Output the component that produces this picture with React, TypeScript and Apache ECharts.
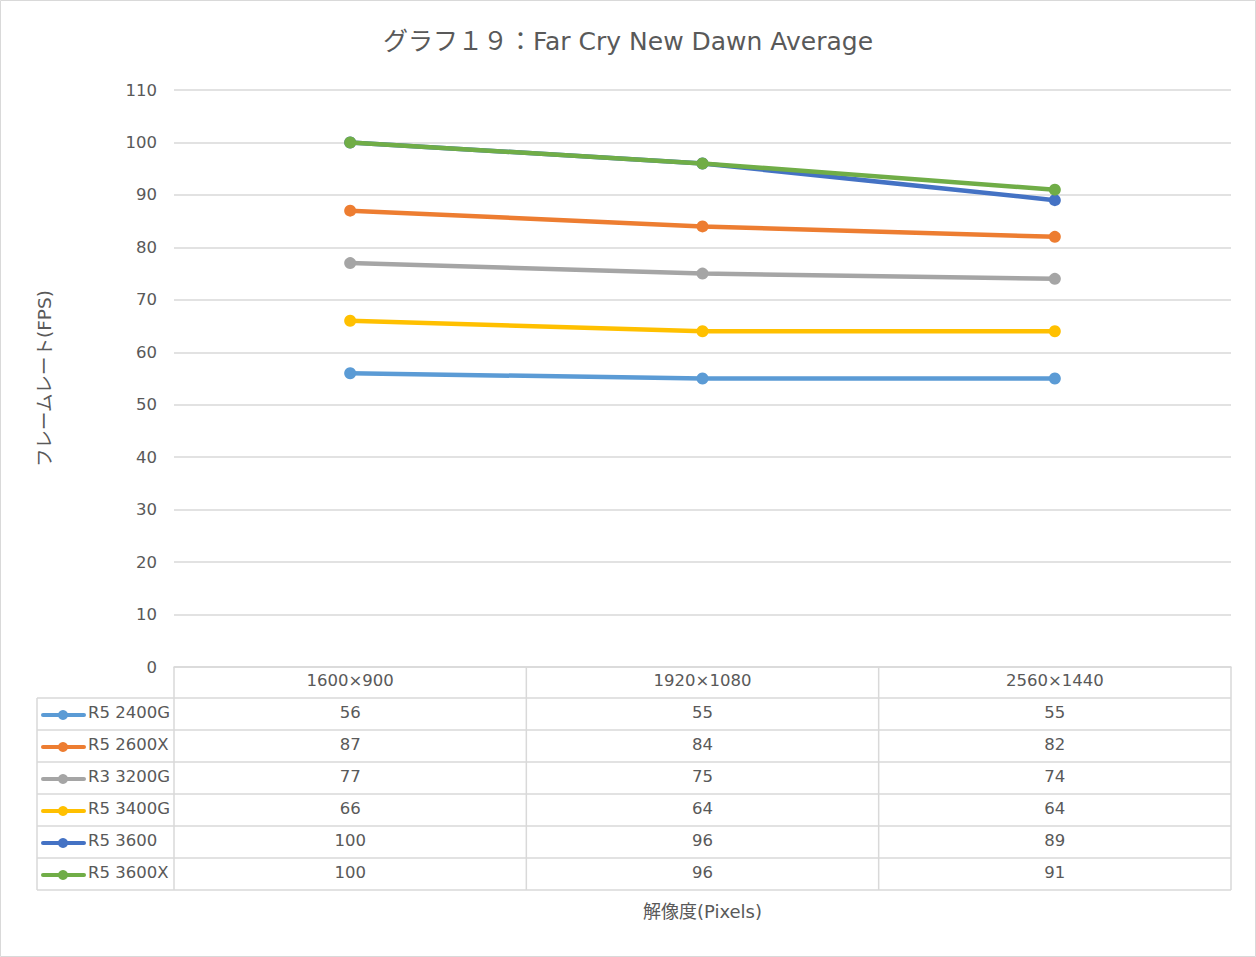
import React, { useEffect, useRef } from "react";
import * as echarts from "echarts";

const categories = ["1600×900", "1920×1080", "2560×1440"];
const seriesNames = ["R5 2400G", "R5 2600X", "R3 3200G", "R5 3400G", "R5 3600", "R5 3600X"];
const r5_2400g = [56, 55, 55];
const r5_2600x = [87, 84, 82];
const r3_3200g = [77, 75, 74];
const r5_3400g = [66, 64, 64];
const r5_3600 = [100, 96, 89];
const r5_3600x = [100, 96, 91];
const seriesValues = [r5_2400g, r5_2600x, r3_3200g, r5_3400g, r5_3600, r5_3600x];
const colors = ["#5B9BD5", "#ED7D31", "#A5A5A5", "#FFC000", "#4472C4", "#70AD47"];
const yTicks = { min: 0, max: 110, interval: 10 };

const FONT = "'DejaVu Sans', 'Noto Sans CJK JP', sans-serif";
const TXT = "#595959";
const GRID_LINE = "#d9d9d9";

export default function App() {
  const ref = useRef<HTMLDivElement>(null);
  useEffect(() => {
    if (!ref.current) return;
    const chart = echarts.init(ref.current, null, { renderer: "svg" });
    const left = 174, right = 1231, top = 90, bottom = 667;
    const rowH = 32;
    const tableLeft = 37;
    const colW = (right - left) / categories.length;
    const graphics: any[] = [];
    graphics.push({
      type: "rect",
      shape: { x: 0.5, y: 0.5, width: 1255, height: 956 },
      style: { fill: "none", stroke: GRID_LINE, lineWidth: 1 },
    });
    const nRows = seriesNames.length;
    const tableBottom = bottom + rowH * (nRows + 1) - 1;
    for (let i = 0; i <= categories.length; i++) {
      const x = left + colW * i;
      graphics.push({
        type: "line",
        shape: { x1: x, y1: bottom, x2: x, y2: tableBottom },
        style: { stroke: GRID_LINE, lineWidth: 1.5 },
      });
    }
    graphics.push({
      type: "line",
      shape: { x1: tableLeft, y1: bottom + rowH - 1, x2: tableLeft, y2: tableBottom },
      style: { stroke: GRID_LINE, lineWidth: 1.5 },
    });
    for (let r = 1; r <= nRows + 1; r++) {
      const y = bottom + rowH * r - 1;
      graphics.push({
        type: "line",
        shape: { x1: tableLeft, y1: y, x2: right, y2: y },
        style: { stroke: GRID_LINE, lineWidth: 1.5 },
      });
    }
    seriesNames.forEach((name, r) => {
      const cy = bottom + rowH * (r + 1) + rowH / 2 - 3;
      graphics.push({
        type: "line",
        shape: { x1: 43, y1: cy + 3, x2: 84, y2: cy + 3 },
        style: { stroke: colors[r], lineWidth: 4, lineCap: "round" },
      });
      graphics.push({
        type: "circle",
        shape: { cx: 63, cy: cy + 3, r: 5 },
        style: { fill: colors[r] },
      });
      graphics.push({
        type: "text",
        x: 88,
        y: cy,
        style: { text: name, fill: TXT, font: `16.5px ${FONT}`, textAlign: "left", textVerticalAlign: "middle" },
      });
      seriesValues[r].forEach((v, c) => {
        graphics.push({
          type: "text",
          x: left + colW * c + colW / 2,
          y: cy,
          style: { text: String(v), fill: TXT, font: `16.5px ${FONT}`, textAlign: "center", textVerticalAlign: "middle" },
        });
      });
    });

    chart.setOption({
      animation: false,
      backgroundColor: "#ffffff",
      title: {
        text: "グラフ１９：Far Cry New Dawn Average",
        left: "center",
        top: 24,
        textStyle: { color: TXT, fontSize: 25, fontWeight: "normal", fontFamily: FONT },
      },
      grid: { left, right: 1256 - right, top, height: bottom - top, containLabel: false },
      xAxis: {
        type: "category",
        data: categories,
        boundaryGap: true,
        axisLine: { show: true, lineStyle: { color: GRID_LINE, width: 1.5 } },
        axisTick: { show: false },
        axisLabel: { color: TXT, fontSize: 16.5, fontFamily: FONT, margin: 5 },
        name: "解像度(Pixels)",
        nameLocation: "middle",
        nameGap: 235,
        nameTextStyle: { color: TXT, fontSize: 18, fontFamily: FONT },
      },
      yAxis: {
        type: "value",
        min: yTicks.min,
        max: yTicks.max,
        interval: yTicks.interval,
        axisLine: { show: false },
        axisTick: { show: false },
        splitLine: { lineStyle: { color: GRID_LINE, width: 1.5 } },
        axisLabel: { color: TXT, fontSize: 16.5, fontFamily: FONT, margin: 17 },
        name: "フレームレート(FPS)",
        nameLocation: "middle",
        nameGap: 120,
        nameRotate: 90,
        nameTextStyle: { color: TXT, fontSize: 18.5, fontFamily: FONT },
      },
      series: seriesNames.map((name, i) => ({
        name,
        type: "line",
        data: seriesValues[i],
        symbol: "circle",
        symbolSize: 12,
        lineStyle: { color: colors[i], width: 4.5 },
        itemStyle: { color: colors[i] },
        z: 2 + i,
      })),
      graphic: graphics,
    });
    return () => chart.dispose();
  }, []);
  return (
    <div
      ref={ref}
      style={{ position: "absolute", left: 0, top: 0, width: 1256, height: 957 }}
    />
  );
}
